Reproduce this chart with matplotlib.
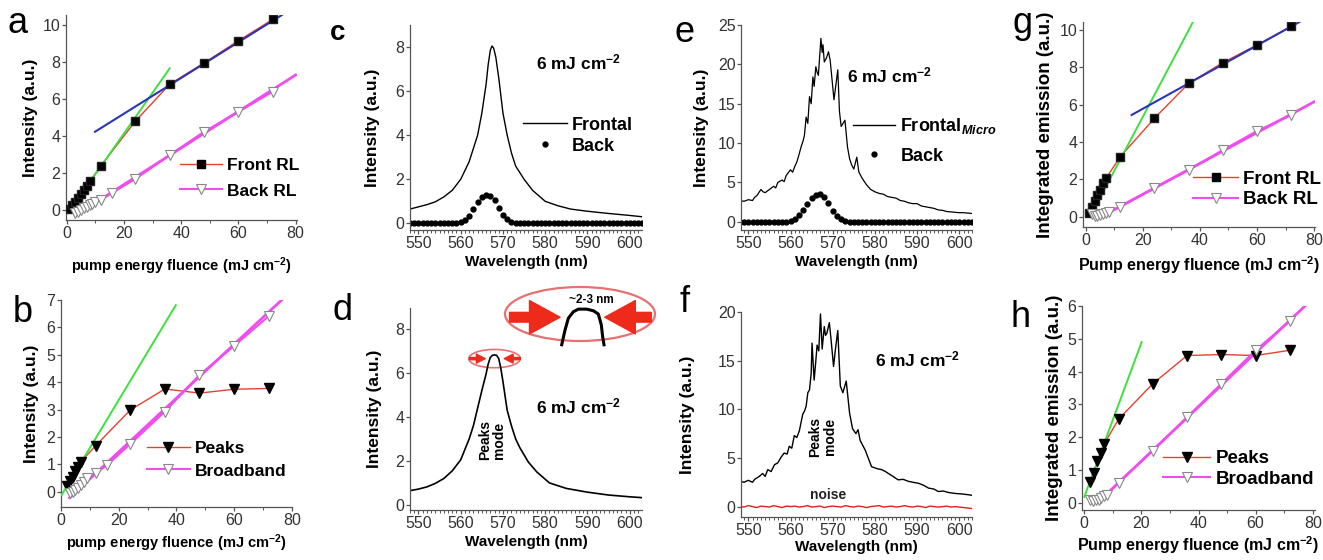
import numpy as np
import matplotlib
matplotlib.use("Agg")
import matplotlib.pyplot as plt
from matplotlib.lines import Line2D
from matplotlib.patches import Ellipse
from matplotlib.ticker import MultipleLocator

plt.rcParams['font.family'] = ['Liberation Sans', 'DejaVu Sans']
plt.rcParams['mathtext.fontset'] = 'custom'
plt.rcParams['mathtext.rm'] = 'Liberation Sans:bold'
plt.rcParams['mathtext.it'] = 'Liberation Sans:bold:italic'
plt.rcParams['mathtext.bf'] = 'Liberation Sans:bold'

# ---------------- data: fluence series (a, b, g, h) ----------------
a_front_x = [1, 2, 3, 4, 5, 6, 7, 8, 12, 24, 36, 48, 60, 72]
a_front_y = [0.05, 0.25, 0.45, 0.65, 0.85, 1.1, 1.3, 1.55, 2.4, 4.8, 6.8, 7.95, 9.15, 10.3]
a_back_x = [3, 4, 5, 6, 7, 8, 9, 10, 12, 16, 24, 36, 48, 60, 72]
a_back_y = [-0.15, -0.1, 0.0, 0.1, 0.15, 0.25, 0.35, 0.45, 0.54, 0.94, 1.68, 2.97, 4.23, 5.31, 6.4]
a_green_x, a_green_y = [1.7, 36.0], [0.1, 7.66]
a_blue_x, a_blue_y = [9.9, 75.2], [4.23, 10.54]
a_mag_x, a_mag_y = [3.0, 80.0], [-0.3, 7.3]

b_peaks_x = [2, 3, 4, 5, 6, 7, 12, 24, 36, 48, 60, 72]
b_peaks_y = [0.2, 0.4, 0.55, 0.75, 0.9, 1.1, 1.68, 2.98, 3.75, 3.6, 3.74, 3.77]
b_bb_x = [3, 4, 5, 6, 7, 8, 9, 12, 16, 24, 36, 48, 60, 72]
b_bb_y = [-0.05, 0.0, 0.05, 0.15, 0.25, 0.35, 0.5, 0.67, 0.97, 1.74, 2.92, 4.26, 5.32, 6.41]
b_green_x, b_green_y = [0.2, 39.8], [-0.12, 6.81]
b_mag_x, b_mag_y = [3.0, 76.5], [-0.22, 7.0]

g_front_x = [1, 2, 3, 4, 5, 6, 7, 12, 24, 36, 48, 60, 72]
g_front_y = [0.2, 0.5, 0.85, 1.15, 1.45, 1.8, 2.05, 3.21, 5.27, 7.14, 8.25, 9.2, 10.2]
g_back_x = [2, 3, 4, 5, 6, 7, 8, 12, 24, 36, 48, 60, 72]
g_back_y = [0.15, 0.05, 0.05, 0.1, 0.15, 0.2, 0.25, 0.54, 1.52, 2.5, 3.57, 4.59, 5.45]
g_green_x, g_green_y = [1.4, 37.6], [0.0, 10.45]
g_blue_x, g_blue_y = [16.0, 75.1], [5.45, 10.45]
g_mag_x, g_mag_y = [8.0, 80.0], [0.22, 6.15]

h_peaks_x = [2, 3.4, 4.6, 5.9, 7.0, 12, 24, 36, 48, 60, 72]
h_peaks_y = [0.64, 0.92, 1.26, 1.53, 1.8, 2.55, 3.63, 4.49, 4.52, 4.49, 4.65]
h_bb_x = [2, 3, 4, 5, 6, 7, 8, 12, 24, 36, 48, 60, 72]
h_bb_y = [0.1, 0.05, 0.08, 0.1, 0.15, 0.2, 0.25, 0.61, 1.59, 2.61, 3.63, 4.65, 5.54]
h_green_x, h_green_y = [0.0, 20.1], [0.18, 4.9]
h_mag_x, h_mag_y = [7.0, 77.3], [0.2, 6.0]

# ---------------- data: spectra (c, d, e, f) ----------------
c_front_wl = [548, 550, 552, 554, 556, 558, 560, 562, 563, 564,
              565, 566, 566.5, 567, 567.4, 567.8, 568.3, 569, 570, 571,
              572, 573, 575, 577, 580, 583, 586, 590, 595, 600, 603]
c_front_I = [0.65, 0.75, 0.85, 0.98, 1.2, 1.5, 2.0, 2.8, 3.4, 4.0,
             5.0, 6.3, 7.2, 7.85, 8.05, 7.95, 7.55, 6.6, 5.0, 4.0,
             3.2, 2.6, 2.0, 1.5, 1.0, 0.8, 0.65, 0.55, 0.45, 0.36, 0.3]

back_wl = list(range(548, 604))
c_back_I = [0] * 12 + [0.05, 0.15, 0.35, 0.65, 0.95, 1.2, 1.3, 1.25, 1.05, 0.7,
                       0.4, 0.18, 0.06, 0.02] + [0] * 30
e_back_I = [0] * 12 + [0.05, 0.3, 0.8, 1.5, 2.3, 3.0, 3.45, 3.5, 3.2, 2.4,
                       1.4, 0.7, 0.3, 0.1] + [0] * 30

d_front_wl = [548, 550, 552, 554, 556, 558, 560, 562, 563, 564,
              565, 566, 566.5, 567, 567.5, 568, 568.5, 569, 569.5, 570,
              571, 572, 573, 574, 576, 578, 581, 585, 590, 595, 600, 603]
d_front_I = [0.65, 0.72, 0.82, 0.98, 1.2, 1.55, 2.05, 3.0, 3.6, 4.4,
             5.2, 5.95, 6.4, 6.7, 6.8, 6.82, 6.8, 6.65, 6.2, 5.6,
             4.3, 3.6, 3.0, 2.6, 1.95, 1.5, 1.0, 0.75, 0.58, 0.45, 0.37, 0.33]

e_front_wl = [548, 549, 550, 551, 551.5, 552, 553, 553.5, 554, 555,
              556, 556.5, 557, 558, 558.5, 559, 560, 560.5, 561, 561.5,
              562, 562.5, 563, 563.3, 563.7, 564.1, 564.5, 564.9, 565.3, 565.6,
              566, 566.3, 566.6, 567.2, 567.5, 567.7, 568, 568.5, 569, 569.4,
              570.3, 571.2, 571.6, 572, 572.9, 573.5, 574, 574.5, 575, 575.7,
              576.2, 577, 578, 579, 580, 581, 582, 583, 584, 585,
              586, 587, 588, 589, 590, 591, 592, 593, 594, 595,
              596, 597, 598, 599, 600, 601, 602, 603]
e_front_I = [2.7, 2.6, 2.8, 2.7, 3.1, 3.3, 4.1, 3.8, 3.7, 4.1,
             4.5, 4.3, 5.0, 5.3, 5.1, 5.9, 6.6, 6.3, 7.0, 7.6,
             8.5, 9.5, 10.3, 11.0, 13.3, 12.5, 15.9, 15.0, 18.4, 17.2,
             19.7, 19.0, 18.6, 23.3, 21.5, 22.5, 20.3, 20.8, 21.6, 20.5,
             15.5, 19.3, 14.0, 12.1, 12.9, 9.5, 8.0, 7.2, 6.7, 8.2,
             6.3, 5.5, 4.7, 4.1, 3.8, 3.6, 3.5, 3.2, 3.1, 3.0,
             2.7, 2.6, 2.4, 2.3, 2.3, 2.0, 1.9, 1.8, 1.7, 1.5,
             1.45, 1.3, 1.25, 1.2, 1.15, 1.15, 1.1, 1.05]

f_front_wl = [548, 549, 550, 551, 551.5, 552.6, 553.4, 554, 554.6, 555.4,
              556.2, 557, 557.8, 558.5, 559.2, 559.7, 560.3, 560.9, 561.5, 562.1,
              562.9, 563.3, 563.7, 564.1, 564.5, 564.9, 565.1, 565.6, 566.0, 566.3,
              566.7, 567.1, 567.5, 568.0, 568.3, 568.6, 569.2, 569.6, 570.2, 570.6,
              571.2, 571.8, 572.4, 573.2, 574.0, 574.7, 575.5, 576.0, 576.5, 577.7,
              579.2, 580.5, 581.6, 582.5, 583.2, 584.3, 585.5, 586.7, 587.9, 589,
              590.3, 591.5, 592.7, 594, 595, 596.2, 597.4, 599, 600.6, 601.5,
              602.5, 603]
f_front_I = [2.6, 2.5, 2.7, 2.5, 2.8, 3.1, 3.4, 3.1, 3.8, 3.6,
             4.3, 4.5, 5.1, 5.5, 5.4, 6.2, 6.0, 7.3, 7.1, 7.8,
             9.5, 9.8, 10.3, 11.7, 12.0, 13.7, 16.8, 13.0, 15.0, 16.6,
             16.0, 19.8, 16.2, 18.5, 17.6, 17.8, 18.9, 17.2, 14.4, 16.0,
             18.1, 12.4, 11.7, 12.9, 9.6, 8.0, 7.5, 7.9, 6.8, 5.8,
             4.1, 3.9, 3.8, 3.6, 3.4, 3.1, 2.75, 2.8, 2.6, 2.5,
             2.4, 2.2, 1.9, 1.8, 1.55, 1.6, 1.45, 1.35, 1.3, 1.25,
             1.2, 1.15]

noise_wl = list(range(548, 604))
noise_I = [0.05, -0.05, 0.1, 0.0, -0.1, 0.05, 0.0, -0.05, 0.1, 0.0,
           -0.1, 0.05, 0.0, 0.05, -0.05, 0.0, 0.1, -0.05, 0.0, 0.05,
           -0.1, 0.0, 0.05, 0.0, -0.05, 0.1, 0.0, -0.05, 0.05, 0.0,
           -0.1, 0.0, 0.05, 0.1, -0.05, 0.0, 0.05, -0.05, 0.0, 0.1,
           0.0, -0.05, 0.05, 0.0, -0.1, 0.05, 0.0, -0.05, 0.0, 0.05,
           -0.05, 0.0, -0.05, -0.1, -0.15, -0.2]

# inset profile (top of the peak), in inset-box fractions
inset_px = [0.378, 0.40, 0.422, 0.455, 0.489, 0.545, 0.589, 0.611, 0.622, 0.63, 0.642, 0.651, 0.66]
inset_py = [-0.07, 0.20, 0.42, 0.54, 0.59, 0.59, 0.56, 0.52, 0.50, 0.42, 0.30, 0.08, -0.07]

RED = '#e8402e'
MAG = '#f04cf0'
GREEN = '#3ee03e'
BLUE = '#2a35b8'
ARROW = '#ee2a1a'

W, H = 1323, 560
fig = plt.figure(figsize=(W / 100, H / 100), dpi=100)


def add_ax(L, T, R, B):
    return fig.add_axes([L / W, 1 - B / H, (R - L) / W, (B - T) / H])


def style(ax, xlim, ylim, xmaj, xmin, ymaj):
    ax.set_xlim(*xlim)
    ax.set_ylim(*ylim)
    ax.xaxis.set_major_locator(MultipleLocator(xmaj))
    ax.xaxis.set_minor_locator(MultipleLocator(xmin))
    ax.yaxis.set_major_locator(MultipleLocator(ymaj))
    for s in ['top', 'right']:
        ax.spines[s].set_visible(False)
    for s in ['left', 'bottom']:
        ax.spines[s].set_linewidth(0.9)
        ax.spines[s].set_color('#555555')
    ax.tick_params(which='major', direction='out', length=3, width=0.9,
                   labelsize=11.5, colors='#555555', labelcolor='#333333', pad=1)
    ax.tick_params(which='minor', direction='out', length=2, width=0.7, colors='#555555')


def labels(ax, xl, yl, xpad, ypad, size=11, ysize=12.5):
    ax.set_xlabel(xl, fontsize=size, fontweight='bold', labelpad=xpad)
    ax.set_ylabel(yl, fontsize=ysize, fontweight='bold', labelpad=ypad)


def legend(ax, handles, names, x, y, fs, handle_px, row_px, text_px=5):
    fs_px = fs * 100 / 72
    ax.legend(handles, names, loc='center left', bbox_to_anchor=(x, y),
              frameon=False, borderpad=0, borderaxespad=0, numpoints=1,
              handlelength=handle_px / fs_px, handletextpad=text_px / fs_px,
              labelspacing=max(0.0, (row_px - 1.15 * fs_px) / fs_px),
              prop={'weight': 'bold', 'size': fs})


def letter(x, y, s, size=26, weight='normal'):
    fig.text(x / W, 1 - y / H, s, fontsize=size, fontweight=weight,
             ha='center', va='baseline')


h_front = Line2D([], [], color=RED, lw=1, marker='s', ms=5.5, mfc='black', mec='black')
h_peaks = Line2D([], [], color=RED, lw=1, marker='v', ms=6.5, mfc='black', mec='black')
h_back = Line2D([], [], color=MAG, lw=1.5, marker='v', ms=7, mfc='white', mec='#888888', mew=0.8)
h_line = Line2D([], [], color='black', lw=1)
h_dot = Line2D([], [], color='black', ls='none', marker='o', ms=3.5)

flu_label = 'pump energy fluence (mJ cm$^{-2}$)'
flu_label2 = 'Pump energy fluence (mJ cm$^{-2}$)'

# ---------------- panel a ----------------
ax = add_ax(65.7, 15, 296.5, 220)
style(ax, (-0.35, 80.3), (-0.54, 10.54), 20, 10, 2)
ax.plot(a_front_x, a_front_y, color=RED, lw=1, zorder=2)
ax.plot(a_green_x, a_green_y, color=GREEN, lw=1.4, zorder=3)
ax.plot(a_blue_x, a_blue_y, color=BLUE, lw=1.5, zorder=3)
ax.plot(a_back_x, a_back_y, color=MAG, lw=1.5, zorder=2)
ax.plot(a_mag_x, a_mag_y, color=MAG, lw=2, zorder=2)
ax.plot(a_front_x, a_front_y, 's', ms=5.5, mfc='black', mec='#222222', zorder=4)
ax.plot(a_back_x, a_back_y, 'v', ms=7, mfc='white', mec='#888888', mew=0.8, zorder=4)
labels(ax, flu_label, 'Intensity (a.u.)', 11, 3.5, size=10.5)
legend(ax, [h_front, h_back], ['Front RL', 'Back RL'], 0.496, 0.203, 12.5, 42, 30)

# ---------------- panel b ----------------
ax = add_ax(61, 300, 292, 507)
style(ax, (0, 80.1), (-0.56, 7.0), 20, 10, 1)
ax.plot(b_peaks_x, b_peaks_y, color=RED, lw=1, zorder=2)
ax.plot(b_green_x, b_green_y, color=GREEN, lw=1.4, zorder=3)
ax.plot(b_bb_x, b_bb_y, color=MAG, lw=1.5, zorder=2)
ax.plot(b_mag_x, b_mag_y, color=MAG, lw=2, zorder=2)
ax.plot(b_peaks_x, b_peaks_y, 'v', ms=6.5, mfc='black', mec='black', zorder=4)
ax.plot(b_bb_x, b_bb_y, 'v', ms=7, mfc='white', mec='#888888', mew=0.8, zorder=4)
labels(ax, flu_label, 'Intensity (a.u.)', 3.5, 5.5, size=10.5)
legend(ax, [h_peaks, h_back], ['Peaks', 'Broadband'], 0.371, 0.229, 12.5, 43, 27.6)

# ---------------- panel c ----------------
ax = add_ax(410, 25, 642, 230)
style(ax, (548.0, 602.9), (-0.3, 9.0), 10, 1, 2)
ax.plot(c_front_wl, c_front_I, color='black', lw=1.0)
ax.plot(back_wl, c_back_I, 'o', color='black', ms=3.5)
ax.text(577.7, 7.3, '6 mJ cm$^{-2}$', fontsize=12.5, fontweight='bold', va='center')
labels(ax, 'Wavelength (nm)', 'Intensity (a.u.)', 3.5, 11)
legend(ax, [h_line, h_dot], ['Frontal', 'Back'], 0.487, 0.46, 13, 44, 25)

# ---------------- panel d ----------------
ax = add_ax(410, 308, 642, 510)
style(ax, (548.0, 602.9), (-0.23, 8.95), 10, 1, 2)
ax.plot(d_front_wl, d_front_I, color='black', lw=1.2)
ax.add_patch(Ellipse((568.0, 6.65), 12.2, 0.83, fill=False, ec='#e87070', lw=1.2))
arrow_small = dict(arrowstyle='simple,head_length=0.8,head_width=0.8,tail_width=0.2',
                   color=ARROW, mutation_scale=8, shrinkA=0, shrinkB=0)
ax.annotate('', xy=(565.8, 6.65), xytext=(562.1, 6.65), arrowprops=arrow_small)
ax.annotate('', xy=(570.3, 6.65), xytext=(574.1, 6.65), arrowprops=arrow_small)
ax.text(567.5, 2.95, 'Peaks\nmode', rotation=90, fontsize=10, fontweight='bold',
        ha='center', va='center', linespacing=1.0)
ax.text(577.7, 4.47, '6 mJ cm$^{-2}$', fontsize=12.5, fontweight='bold', va='center')
labels(ax, 'Wavelength (nm)', 'Intensity (a.u.)', 3.5, 10)

ins = add_ax(505, 287, 655, 341)
ins.set_xlim(0, 1)
ins.set_ylim(0, 1)
ins.axis('off')
ins.add_patch(Ellipse((0.5, 0.5), 1, 1, fc='white', ec='#e87070', lw=1.6, clip_on=False))
ins.plot(inset_px, inset_py, color='black', lw=2.2, clip_on=False)
arrow_big = dict(arrowstyle='simple,head_length=1.1,head_width=1.2,tail_width=0.35',
                 color=ARROW, mutation_scale=20, shrinkA=0, shrinkB=0)
ins.annotate('', xy=(0.367, 0.44), xytext=(0.03, 0.44), arrowprops=arrow_big,
             annotation_clip=False)
ins.annotate('', xy=(0.665, 0.44), xytext=(0.975, 0.44), arrowprops=arrow_big,
             annotation_clip=False)
ins.text(0.578, 0.76, '~2-3 nm', fontsize=8.5, fontweight='bold', ha='center', va='center')

# ---------------- panel e ----------------
ax = add_ax(741, 25, 972, 230)
style(ax, (548.27, 603.0), (-1.05, 25.0), 10, 1, 5)
ax.plot(e_front_wl, e_front_I, color='black', lw=0.9)
ax.plot(back_wl, e_back_I, 'o', color='black', ms=3.5)
ax.text(573.5, 18.6, '6 mJ cm$^{-2}$', fontsize=12.5, fontweight='bold', va='center')
labels(ax, 'Wavelength (nm)', 'Intensity (a.u.)', 3.5, 6)
legend(ax, [h_line, h_dot], ['Frontal$_{Micro}$', 'Back'], 0.486, 0.437, 13, 42, 32)

# ---------------- panel f ----------------
ax = add_ax(741, 312, 972, 517)
style(ax, (548.27, 603.0), (-1.07, 20.0), 10, 1, 5)
ax.plot(f_front_wl, f_front_I, color='black', lw=1.0)
ax.plot(noise_wl, noise_I, color='#e02020', lw=1.0)
ax.text(567.6, 7.2, 'Peaks\nmode', rotation=90, fontsize=10, fontweight='bold',
        ha='center', va='center', linespacing=1.0)
ax.text(569.0, 1.2, 'noise', fontsize=10, fontweight='bold', ha='center', va='center',
        color='#222222')
ax.text(580.0, 15.1, '6 mJ cm$^{-2}$', fontsize=12.5, fontweight='bold', va='center')
labels(ax, 'Wavelength (nm)', 'Intensity (a.u.)', 1.5, 16)

# ---------------- panel g ----------------
ax = add_ax(1083, 22, 1315, 227)
style(ax, (-1.05, 80.35), (-0.55, 10.43), 20, 10, 2)
ax.plot(g_front_x, g_front_y, color=RED, lw=1, zorder=2)
ax.plot(g_green_x, g_green_y, color=GREEN, lw=1.4, zorder=3)
ax.plot(g_blue_x, g_blue_y, color=BLUE, lw=1.5, zorder=3)
ax.plot(g_back_x, g_back_y, color=MAG, lw=1.5, zorder=2)
ax.plot(g_mag_x, g_mag_y, color=MAG, lw=2, zorder=2)
ax.plot(g_front_x, g_front_y, 's', ms=5.5, mfc='black', mec='#222222', zorder=4)
ax.plot(g_back_x, g_back_y, 'v', ms=7, mfc='white', mec='#888888', mew=0.8, zorder=4)
labels(ax, flu_label2, 'Integrated emission (a.u.)', 5, 4, size=11.5, ysize=13.5)
legend(ax, [h_front, h_back], ['Front RL', 'Back RL'], 0.475, 0.184, 13.5, 45, 25)

# ---------------- panel h ----------------
ax = add_ax(1082, 306, 1315, 510)
style(ax, (-0.8, 80.8), (-0.22, 6.0), 20, 10, 1)
ax.plot(h_peaks_x, h_peaks_y, color=RED, lw=1, zorder=2)
ax.plot(h_green_x, h_green_y, color=GREEN, lw=1.4, zorder=3)
ax.plot(h_bb_x, h_bb_y, color=MAG, lw=1.5, zorder=2)
ax.plot(h_mag_x, h_mag_y, color=MAG, lw=2, zorder=2)
ax.plot(h_peaks_x, h_peaks_y, 'v', ms=6.5, mfc='black', mec='black', zorder=4)
ax.plot(h_bb_x, h_bb_y, 'v', ms=7, mfc='white', mec='#888888', mew=0.8, zorder=4)
labels(ax, flu_label2, 'Integrated emission (a.u.)', 3, 3, size=11.5, ysize=13.5)
legend(ax, [h_peaks, h_back], ['Peaks', 'Broadband'], 0.349, 0.2, 13.5, 47, 25)

# ---------------- panel letters ----------------
letter(17.5, 33, 'a')
letter(22.5, 322, 'b')
letter(338, 40, 'c', size=20, weight='bold')
letter(343, 320, 'd')
letter(684, 42, 'e')
letter(685, 312, 'f')
letter(1022, 33, 'g')
letter(1021, 327, 'h')

fig.savefig('out.png', dpi=100)
